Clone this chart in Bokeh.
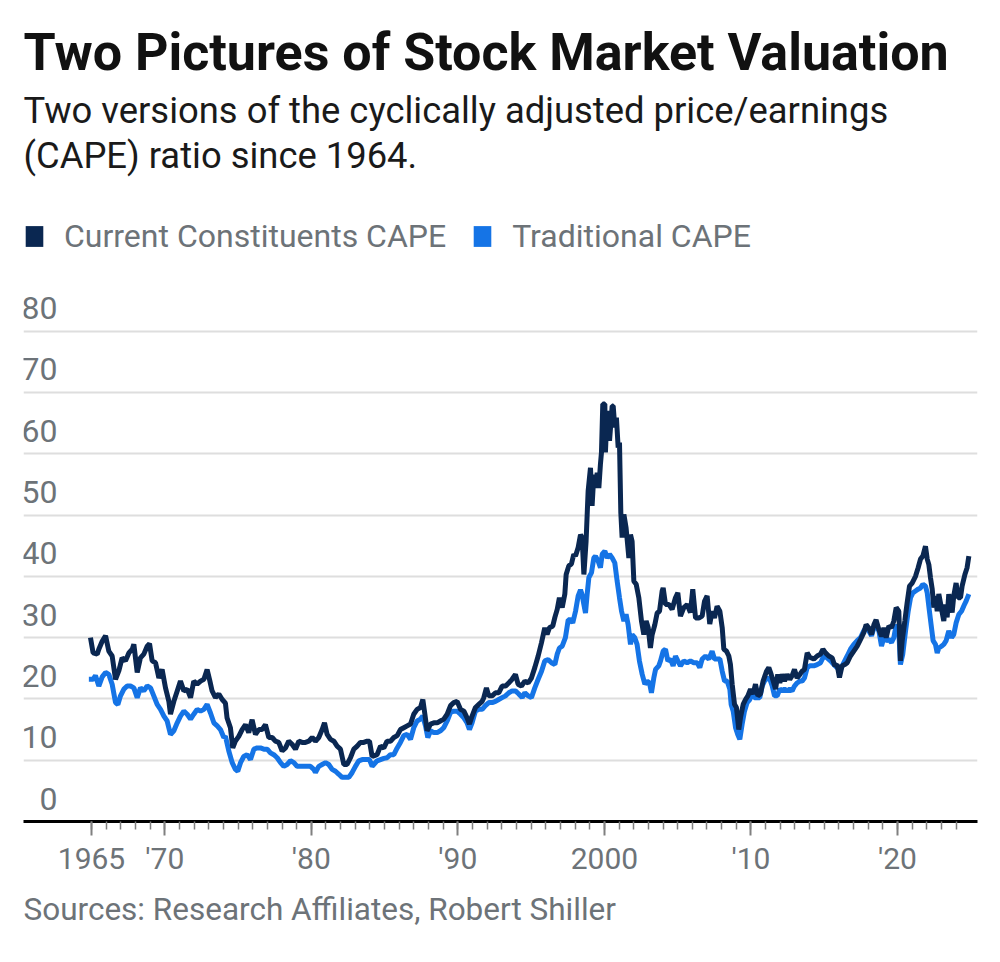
from bokeh.plotting import figure
from bokeh.models import Range1d, FixedTicker, Label, Legend, LegendItem, Title
from bokeh.core.properties import value
from bokeh.embed import file_html
from bokeh.resources import INLINE

# ---------------- data ----------------
cc_years = [
    1964.93, 1965.11, 1965.39, 1965.50, 1965.73, 1965.96, 1966.18, 1966.41, 1966.64, 1966.87,
    1967.09, 1967.32, 1967.55, 1967.78, 1967.89, 1968.12, 1968.34, 1968.57, 1968.80, 1968.96,
    1969.14, 1969.37, 1969.60, 1969.82, 1970.05, 1970.28, 1970.39, 1970.62, 1970.85, 1971.07,
    1971.30, 1971.53, 1971.76, 1971.98, 1972.21, 1972.44, 1972.67, 1972.89, 1973.08, 1973.23,
    1973.46, 1973.69, 1973.92, 1974.14, 1974.25, 1974.48, 1974.64, 1974.82, 1975.05, 1975.28,
    1975.51, 1975.73, 1975.96, 1976.19, 1976.42, 1976.64, 1976.87, 1977.10, 1977.33, 1977.55,
    1977.78, 1978.01, 1978.24, 1978.46, 1978.69, 1978.92, 1979.15, 1979.37, 1979.60, 1979.83,
    1980.06, 1980.28, 1980.51, 1980.74, 1980.90, 1981.08, 1981.31, 1981.54, 1981.76, 1981.99,
    1982.22, 1982.44, 1982.67, 1982.90, 1983.13, 1983.35, 1983.58, 1983.81, 1983.97, 1984.15,
    1984.26, 1984.49, 1984.72, 1984.95, 1985.17, 1985.40, 1985.63, 1985.86, 1986.08, 1986.31,
    1986.54, 1986.77, 1986.99, 1987.22, 1987.45, 1987.61, 1987.75, 1987.90, 1988.13, 1988.36,
    1988.59, 1988.81, 1989.04, 1989.27, 1989.50, 1989.72, 1989.95, 1990.18, 1990.41, 1990.63,
    1990.79, 1990.97, 1991.20, 1991.43, 1991.66, 1991.77, 1991.95, 1992.11, 1992.34, 1992.57,
    1992.79, 1993.02, 1993.25, 1993.48, 1993.70, 1993.93, 1994.11, 1994.34, 1994.57, 1994.80,
    1995.02, 1995.25, 1995.48, 1995.71, 1995.93, 1996.09, 1996.25, 1996.48, 1996.62, 1996.78,
    1996.93, 1997.12, 1997.30, 1997.39, 1997.57, 1997.75, 1997.91, 1998.03, 1998.21, 1998.37,
    1998.48, 1998.60, 1998.75, 1998.89, 1999.05, 1999.16, 1999.28, 1999.39, 1999.51, 1999.62,
    1999.73, 1999.80, 1999.89, 2000.03, 2000.07, 2000.19, 2000.35, 2000.53, 2000.60, 2000.71,
    2000.82, 2000.94, 2001.03, 2001.12, 2001.21, 2001.33, 2001.48, 2001.67, 2001.78, 2001.89,
    2002.01, 2002.17, 2002.35, 2002.53, 2002.69, 2002.85, 2002.99, 2003.14, 2003.26, 2003.44,
    2003.60, 2003.76, 2003.94, 2004.01, 2004.17, 2004.40, 2004.62, 2004.85, 2005.01, 2005.19,
    2005.42, 2005.65, 2005.87, 2006.03, 2006.22, 2006.44, 2006.67, 2006.83, 2007.01, 2007.19,
    2007.35, 2007.51, 2007.69, 2007.88, 2008.04, 2008.15, 2008.33, 2008.49, 2008.60, 2008.72,
    2008.88, 2009.01, 2009.17, 2009.29, 2009.47, 2009.63, 2009.79, 2009.97, 2010.15, 2010.31,
    2010.47, 2010.65, 2010.83, 2011.06, 2011.22, 2011.38, 2011.56, 2011.68, 2011.83, 2011.97,
    2012.13, 2012.29, 2012.47, 2012.65, 2012.81, 2012.97, 2013.15, 2013.34, 2013.49, 2013.65,
    2013.84, 2014.02, 2014.29, 2014.52, 2014.75, 2014.91, 2015.09, 2015.31, 2015.54, 2015.72,
    2015.88, 2016.04, 2016.22, 2016.41, 2016.57, 2016.79, 2017.02, 2017.25, 2017.48, 2017.70,
    2017.86, 2018.04, 2018.23, 2018.39, 2018.54, 2018.73, 2018.91, 2019.07, 2019.23, 2019.41,
    2019.59, 2019.75, 2019.91, 2020.09, 2020.20, 2020.32, 2020.50, 2020.66, 2020.82, 2021.00,
    2021.23, 2021.41, 2021.57, 2021.73, 2021.91, 2022.03, 2022.14, 2022.25, 2022.37, 2022.48,
    2022.59, 2022.71, 2022.82, 2022.93, 2023.05, 2023.16, 2023.28, 2023.39, 2023.50, 2023.62,
    2023.73, 2023.84, 2024.00, 2024.14, 2024.30, 2024.41, 2024.60, 2024.75, 2024.87,
]
cc_values = [
    30.0, 27.5, 27.3, 28.1, 29.4, 30.3, 27.8, 27.0, 23.2, 24.6,
    26.7, 26.2, 27.5, 28.1, 28.9, 24.3, 26.7, 27.3, 28.6, 29.0,
    26.2, 25.9, 23.4, 24.8, 21.8, 19.6, 17.5, 19.6, 21.3, 22.9,
    21.3, 21.6, 20.2, 22.9, 22.4, 22.9, 23.2, 24.8, 22.9, 21.3,
    20.2, 20.8, 19.9, 19.3, 16.9, 15.3, 12.0, 13.1, 13.9, 15.0,
    15.8, 14.5, 16.6, 14.2, 15.0, 15.0, 15.8, 13.7, 13.7, 13.1,
    12.9, 11.5, 12.0, 13.1, 12.6, 11.8, 13.1, 12.9, 12.9, 13.1,
    13.7, 13.1, 13.7, 15.0, 16.1, 14.2, 13.4, 13.1, 12.3, 11.8,
    9.3, 9.3, 10.4, 11.8, 12.3, 12.9, 12.9, 13.1, 13.1, 10.6,
    10.7, 10.9, 12.3, 12.0, 13.1, 13.1, 13.7, 14.0, 15.0, 15.3,
    15.6, 15.9, 17.5, 18.3, 18.6, 19.9, 17.5, 14.8, 15.9, 16.1,
    16.1, 16.4, 16.7, 17.5, 18.9, 19.4, 19.6, 18.3, 18.0, 16.9,
    15.9, 17.2, 18.6, 19.1, 19.6, 20.2, 21.8, 20.5, 20.5, 21.0,
    21.0, 22.1, 22.1, 22.6, 23.2, 24.0, 22.4, 22.1, 22.9, 22.6,
    23.4, 25.1, 27.0, 29.2, 31.6, 30.5, 31.6, 31.9, 33.3, 34.6,
    36.5, 34.9, 37.1, 40.3, 41.7, 42.0, 43.6, 43.3, 44.7, 46.8,
    46.3, 40.3, 45.7, 53.9, 57.7, 51.5, 56.6, 54.4, 56.9, 54.4,
    58.3, 60.2, 68.1, 68.1, 60.2, 67.0, 62.1, 67.8, 67.8, 64.3,
    65.9, 61.0, 61.8, 50.4, 46.3, 50.1, 47.9, 43.0, 46.8, 45.7,
    39.2, 38.7, 36.5, 32.7, 30.5, 32.7, 31.6, 28.3, 30.5, 32.1,
    34.0, 34.3, 37.6, 38.1, 35.4, 35.4, 34.6, 36.5, 37.3, 33.5,
    34.9, 35.4, 34.1, 37.9, 33.2, 33.2, 33.5, 35.9, 36.8, 32.2,
    34.3, 33.2, 35.1, 34.3, 31.6, 28.1, 27.8, 27.0, 25.6, 22.4,
    19.1, 18.6, 15.0, 17.0, 19.1, 19.9, 20.5, 21.6, 20.8, 22.4,
    20.5, 20.8, 22.9, 24.5, 25.1, 24.0, 22.6, 21.6, 24.0, 22.6,
    24.0, 22.9, 24.0, 23.2, 23.8, 24.8, 23.4, 24.0, 24.5, 24.8,
    27.5, 26.8, 26.5, 27.0, 27.3, 28.1, 27.5, 27.0, 26.7, 25.4,
    25.6, 23.5, 25.4, 25.6, 25.9, 27.0, 27.8, 28.6, 29.7, 30.8,
    32.1, 31.6, 30.5, 32.1, 32.9, 31.3, 30.2, 31.6, 30.0, 31.9,
    31.6, 32.7, 34.9, 34.3, 26.2, 29.5, 32.7, 35.7, 38.4, 38.9,
    40.0, 41.4, 42.8, 43.3, 44.9, 42.8, 41.9, 39.8, 37.9, 34.9,
    36.8, 34.3, 37.1, 35.7, 34.1, 32.7, 35.4, 33.3, 37.1, 35.2,
    34.1, 36.8, 38.9, 36.5, 36.5, 38.4, 40.3, 41.4, 43.3,
]

trad_years = [
    1964.82, 1965.11, 1965.27, 1965.50, 1965.73, 1965.96, 1966.18, 1966.41, 1966.64, 1966.80,
    1966.98, 1967.21, 1967.43, 1967.66, 1967.89, 1968.12, 1968.34, 1968.57, 1968.80, 1969.03,
    1969.25, 1969.48, 1969.71, 1969.94, 1970.16, 1970.39, 1970.62, 1970.85, 1971.07, 1971.30,
    1971.53, 1971.76, 1971.98, 1972.21, 1972.44, 1972.67, 1972.89, 1973.12, 1973.35, 1973.58,
    1973.80, 1974.03, 1974.14, 1974.37, 1974.60, 1974.82, 1974.98, 1975.17, 1975.39, 1975.62,
    1975.85, 1976.08, 1976.30, 1976.53, 1976.76, 1976.99, 1977.21, 1977.44, 1977.67, 1977.90,
    1978.12, 1978.35, 1978.58, 1978.81, 1979.03, 1979.60, 1979.94, 1980.17, 1980.28, 1980.51,
    1980.74, 1980.97, 1981.19, 1981.42, 1981.65, 1981.88, 1982.10, 1982.56, 1982.79, 1983.01,
    1983.24, 1983.47, 1983.97, 1984.15, 1984.26, 1984.49, 1984.72, 1984.95, 1985.17, 1985.40,
    1985.63, 1985.86, 1986.08, 1986.31, 1986.54, 1986.77, 1986.99, 1987.22, 1987.45, 1987.61,
    1987.79, 1987.95, 1988.13, 1988.36, 1988.59, 1988.81, 1989.04, 1989.27, 1989.50, 1989.72,
    1989.95, 1990.18, 1990.41, 1990.63, 1990.79, 1990.97, 1991.20, 1991.43, 1991.66, 1991.88,
    1992.11, 1992.34, 1992.57, 1992.79, 1993.02, 1993.25, 1993.48, 1993.70, 1993.93, 1994.16,
    1994.39, 1994.57, 1994.80, 1995.02, 1995.25, 1995.48, 1995.71, 1995.93, 1996.16, 1996.39,
    1996.62, 1996.78, 1996.93, 1997.12, 1997.34, 1997.53, 1997.69, 1997.84, 1998.03, 1998.21,
    1998.37, 1998.48, 1998.60, 1998.71, 1998.82, 1998.94, 1999.12, 1999.28, 1999.39, 1999.57,
    1999.73, 1999.85, 2000.03, 2000.19, 2000.35, 2000.53, 2000.71, 2000.87, 2001.03, 2001.17,
    2001.33, 2001.48, 2001.62, 2001.78, 2001.89, 2002.07, 2002.23, 2002.39, 2002.58, 2002.76,
    2002.92, 2003.08, 2003.21, 2003.37, 2003.49, 2003.71, 2003.83, 2004.01, 2004.17, 2004.33,
    2004.51, 2004.69, 2004.85, 2005.01, 2005.19, 2005.42, 2005.65, 2005.87, 2006.10, 2006.33,
    2006.51, 2006.67, 2006.90, 2007.13, 2007.35, 2007.51, 2007.69, 2007.88, 2008.04, 2008.20,
    2008.38, 2008.56, 2008.65, 2008.79, 2008.95, 2009.10, 2009.24, 2009.40, 2009.56, 2009.74,
    2009.92, 2010.08, 2010.24, 2010.42, 2010.60, 2010.77, 2010.92, 2011.11, 2011.29, 2011.45,
    2011.61, 2011.79, 2011.97, 2012.13, 2012.29, 2012.47, 2012.65, 2012.81, 2012.97, 2013.15,
    2013.34, 2013.49, 2013.65, 2013.84, 2014.02, 2014.29, 2014.52, 2014.75, 2014.97, 2015.20,
    2015.43, 2015.66, 2015.88, 2016.11, 2016.34, 2016.57, 2016.79, 2017.02, 2017.25, 2017.48,
    2017.70, 2017.86, 2018.04, 2018.23, 2018.39, 2018.54, 2018.73, 2018.91, 2019.07, 2019.23,
    2019.41, 2019.59, 2019.75, 2019.91, 2020.09, 2020.20, 2020.36, 2020.55, 2020.73, 2020.89,
    2021.05, 2021.23, 2021.41, 2021.57, 2021.73, 2021.91, 2022.03, 2022.18, 2022.32, 2022.43,
    2022.59, 2022.71, 2022.82, 2023.00, 2023.16, 2023.32, 2023.50, 2023.69, 2023.84, 2024.00,
    2024.19, 2024.37, 2024.53, 2024.69, 2024.87,
]
trad_values = [
    23.2, 23.2, 23.8, 22.1, 23.6, 24.3, 24.0, 22.4, 19.4, 19.1,
    20.5, 21.6, 22.1, 22.1, 21.8, 20.2, 21.8, 21.3, 22.1, 21.8,
    20.5, 19.1, 18.3, 17.2, 16.4, 14.2, 14.8, 16.1, 17.2, 18.0,
    17.5, 16.7, 17.5, 18.3, 18.0, 18.3, 19.1, 17.7, 16.1, 15.6,
    15.0, 13.7, 13.9, 11.5, 9.6, 8.5, 8.2, 9.6, 10.6, 10.9,
    10.1, 11.8, 12.0, 12.0, 11.8, 11.8, 11.2, 10.9, 10.4, 9.6,
    9.0, 9.3, 9.9, 9.6, 9.0, 9.0, 9.0, 8.5, 8.0, 9.0,
    9.3, 9.6, 9.3, 8.5, 8.2, 7.7, 7.2, 7.2, 8.0, 9.0,
    9.9, 10.1, 10.1, 9.0, 9.3, 9.9, 10.1, 10.3, 10.4, 10.9,
    10.9, 12.0, 12.9, 14.0, 14.2, 13.4, 15.3, 16.4, 16.7, 17.2,
    15.6, 13.7, 14.8, 14.5, 14.5, 14.8, 15.3, 16.4, 17.8, 18.0,
    18.0, 17.5, 16.9, 16.1, 15.0, 16.1, 18.0, 18.3, 18.3, 18.9,
    19.4, 19.4, 19.6, 19.9, 20.2, 20.5, 21.0, 21.3, 21.3, 20.8,
    20.2, 21.0, 20.5, 20.2, 21.8, 23.2, 24.5, 26.2, 26.4, 25.9,
    25.6, 27.3, 28.3, 28.6, 30.0, 32.9, 32.9, 32.4, 34.3, 36.8,
    37.8, 37.0, 35.4, 34.0, 37.0, 39.8, 40.6, 43.0, 43.3, 42.5,
    41.4, 43.6, 44.1, 43.0, 43.6, 43.0, 42.2, 39.2, 36.5, 34.3,
    32.7, 33.8, 32.1, 28.9, 30.5, 30.0, 28.9, 26.2, 24.0, 22.4,
    22.9, 22.6, 21.0, 23.4, 24.8, 25.4, 26.2, 27.8, 28.1, 26.2,
    26.5, 25.4, 27.0, 26.2, 25.4, 26.2, 25.9, 26.2, 25.9, 25.9,
    25.1, 26.5, 27.0, 26.5, 27.8, 26.5, 26.5, 26.5, 24.5, 22.9,
    22.9, 21.6, 19.1, 18.0, 15.3, 14.2, 13.4, 15.9, 18.0, 19.4,
    19.9, 21.0, 20.2, 20.2, 20.2, 22.1, 22.9, 23.4, 23.2, 22.1,
    20.5, 20.5, 21.6, 21.3, 21.6, 21.3, 21.6, 21.3, 22.1, 22.6,
    22.9, 22.9, 23.4, 25.1, 25.4, 25.4, 25.6, 25.9, 27.0, 26.7,
    26.2, 25.6, 25.1, 24.8, 25.9, 27.0, 28.1, 28.9, 29.5, 30.0,
    31.1, 31.6, 31.1, 30.3, 31.6, 32.1, 31.1, 28.6, 30.0, 29.5,
    29.7, 29.2, 30.0, 32.1, 31.1, 25.6, 27.3, 31.1, 34.3, 36.5,
    37.3, 37.6, 37.9, 38.1, 38.7, 38.4, 37.3, 34.3, 31.6, 29.5,
    28.9, 27.5, 28.3, 28.6, 28.9, 29.5, 31.1, 30.0, 30.5, 32.4,
    33.8, 34.3, 35.2, 36.0, 37.1,
]

y_ticks = [0, 10, 20, 30, 40, 50, 60, 70, 80]
y_tick_labels = ["0", "10", "20", "30", "40", "50", "60", "70", "80"]
x_ticks = [1965, 1970, 1980, 1990, 2000, 2010, 2020]
x_tick_labels = ["1965", "'70", "'80", "'90", "2000", "'10", "'20"]
x_minor_ticks = list(range(1965, 2025))

series_names = ["Current Constituents CAPE", "Traditional CAPE"]
title_text = "Two Pictures of Stock Market Valuation"
subtitle_lines = ["Two versions of the cyclically adjusted price/earnings",
                  "(CAPE) ratio since 1964."]
source_text = "Sources: Research Affiliates, Robert Shiller"

# ---------------- style ----------------
DARK = "#0a2751"
LIGHT = "#1574e6"
GRAY = "#6d7378"
FONT = "Roboto"
NAN = float("nan")

W, H = 984, 946
FRAME_LEFT, FRAME_RIGHT, FRAME_BOTTOM = 23, 977, 821
PX_PER_UNIT = 6.13
X_START, X_END = 1960.36, 2025.46
Y_START, Y_END = 0, FRAME_BOTTOM / PX_PER_UNIT   # frame reaches the top of the canvas

p = figure(width=W, height=H, output_backend="svg", toolbar_location=None,
           x_range=Range1d(X_START, X_END), y_range=Range1d(Y_START, Y_END),
           min_border_left=FRAME_LEFT, min_border_right=W - FRAME_RIGHT,
           min_border_top=0, min_border_bottom=H - FRAME_BOTTOM,
           y_axis_location=None)
p.outline_line_color = None
p.background_fill_color = "white"
p.border_fill_color = "white"

p.xgrid.visible = False
p.ygrid.ticker = FixedTicker(ticks=y_ticks[1:])
p.ygrid.grid_line_color = "#dedede"
p.ygrid.grid_line_width = 2

ax = p.xaxis[0]
ax.ticker = FixedTicker(ticks=x_ticks, minor_ticks=x_minor_ticks)
ax.major_label_overrides = {t: l for t, l in zip(x_ticks, x_tick_labels)}
ax.axis_line_color = "black"
ax.axis_line_width = 3
ax.major_tick_line_color = "#808080"
ax.major_tick_line_width = 2
ax.major_tick_in = 0
ax.major_tick_out = 14
ax.minor_tick_line_color = "#808080"
ax.minor_tick_line_width = 1.5
ax.minor_tick_in = 0
ax.minor_tick_out = 8
ax.major_label_standoff = 5
ax.major_label_text_font = FONT
ax.major_label_text_font_size = "30px"
ax.major_label_text_color = GRAY

# y tick labels sitting above the gridlines
p.text(x=[X_START] * len(y_ticks), y=y_ticks, text=y_tick_labels,
       x_offset=34, y_offset=-23, text_align="right", text_baseline="middle",
       text_font=value(FONT), text_font_size="32px", text_color=GRAY)

# series
p.line(trad_years, trad_values, line_color=LIGHT, line_width=5)
p.line(cc_years, cc_values, line_color=DARK, line_width=5)

# legend (square swatches); renderers hold no drawable point
r_cc = p.quad(left=[NAN], right=[NAN], top=[NAN], bottom=[NAN], fill_color=DARK, line_color=None)
r_tr = p.quad(left=[NAN], right=[NAN], top=[NAN], bottom=[NAN], fill_color=LIGHT, line_color=None)
legend = Legend(items=[LegendItem(label=series_names[0], renderers=[r_cc]),
                       LegendItem(label=series_names[1], renderers=[r_tr])],
                location=(0, 566), orientation="horizontal",
                glyph_width=22, glyph_height=26, label_standoff=19, spacing=25,
                padding=0, margin=0, border_line_color=None, background_fill_alpha=0,
                label_text_font=FONT, label_text_font_size="32px",
                label_text_color=GRAY, label_height=26)
p.add_layout(legend, "center")

# titles (y = text centre, measured up from the axis line)
p.add_layout(Label(x=0, y=769, x_units="screen", y_units="screen", text=title_text,
                   text_font=FONT, text_font_size="52px", text_font_style="bold",
                   text_color="#111111", text_baseline="middle"))
p.add_layout(Label(x=0, y=711, x_units="screen", y_units="screen", text=subtitle_lines[0],
                   text_font=FONT, text_font_size="36.4px", text_color="#1a1a1a",
                   text_baseline="middle"))
p.add_layout(Label(x=0, y=666, x_units="screen", y_units="screen", text=subtitle_lines[1],
                   text_font=FONT, text_font_size="36.4px", text_color="#1a1a1a",
                   text_baseline="middle"))

# source line under the axis
p.add_layout(Title(text=source_text, align="left", text_font=FONT, text_font_size="31.5px",
                   text_font_style="normal", text_color=GRAY, standoff=21), "below")

open("out.html", "w").write(file_html(p, INLINE))
